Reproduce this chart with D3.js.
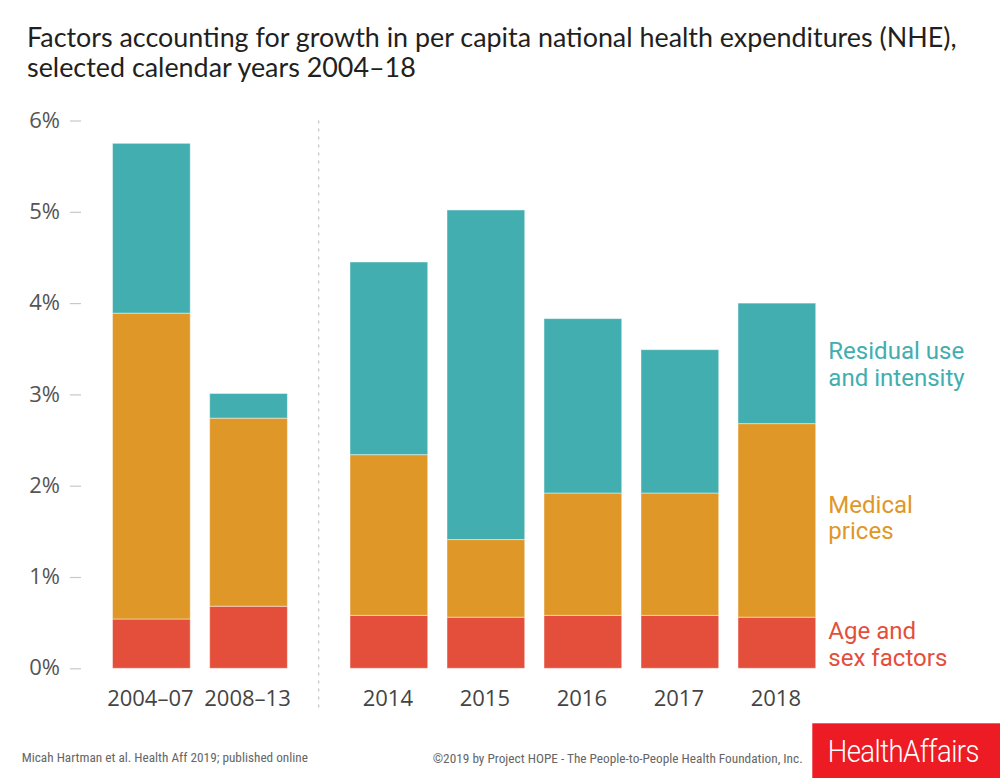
<!DOCTYPE html>
<html>
<head>
<meta charset="utf-8">
<script src="https://cdn.jsdelivr.net/npm/d3@7"></script>
<style>
  html, body { margin: 0; padding: 0; background: #fff; }
  svg { display: block; }
</style>
</head>
<body>
<svg id="chart" width="1000" height="778"></svg>
<script>
// ---- data ----
const leftCategories = ["2004–07", "2008–13"];
const rightCategories = ["2014", "2015", "2016", "2017", "2018"];
const categories = leftCategories.concat(rightCategories);
const ageSex   = [0.54, 0.68, 0.58, 0.56, 0.58, 0.58, 0.56];
const prices   = [3.35, 2.06, 1.76, 0.85, 1.34, 1.34, 2.12];
const residual = [1.86, 0.27, 2.11, 3.61, 1.91, 1.57, 1.32];
const seriesKeys = ["age", "prices", "residual"];
const seriesLabels = [["Age and", "sex factors"], ["Medical", "prices"], ["Residual use", "and intensity"]];
const yTicks = [0, 1, 2, 3, 4, 5, 6];
const titleLines = ["Factors accounting for growth in per capita national health expenditures (NHE),",
                    "selected calendar years 2004–18"];
const sourceText = "Micah Hartman et al. Health Aff 2019; published online";
const copyrightText = "©2019 by Project HOPE - The People-to-People Health Foundation, Inc.";
const brandText = "HealthAffairs";

// ---- styles ----
const colors = { age: "#E34F3A", prices: "#DF9728", residual: "#42AEAF" };

const svg = d3.select("#chart");

const rows = categories.map((c, i) => ({ cat: c, age: ageSex[i], prices: prices[i], residual: residual[i] }));
const stacked = d3.stack().keys(seriesKeys)(rows);

const y = d3.scaleLinear().domain([0, 6]).range([668.3, 120.5]);
const xLeft = d3.scaleBand().domain(leftCategories).range([102.8, 297.1]).paddingInner(0.2).paddingOuter(0.1);
const xRight = d3.scaleBand().domain(rightCategories).range([340.3, 825.3]).paddingInner(0.2).paddingOuter(0.1);
const x = c => leftCategories.includes(c) ? xLeft(c) : xRight(c);
const bw = xLeft.bandwidth();

// title
const title = svg.append("g");
titleLines.forEach((t, i) => {
  title.append("text")
    .attr("x", 27).attr("y", 46.7 + i * 30.6)
    .attr("font-family", "Lato, 'Open Sans', sans-serif")
    .attr("font-size", 24)
    .attr("fill", "#231f20")
    .text(t);
});
// fit title width to ~930px
(function () {
  const t0 = title.select("text").node();
  const w = t0.getComputedTextLength();
  const fs = 24 * 930 / w;
  title.selectAll("text").attr("font-size", fs);
})();

// y axis
const yAxis = d3.axisLeft(y).tickValues(yTicks).tickFormat(d => d + "%").tickSize(11).tickPadding(10);
const yg = svg.append("g").attr("transform", "translate(81,0)").call(yAxis);
yg.select(".domain").remove();
yg.selectAll(".tick line").attr("stroke", "#c8c8c8").attr("stroke-width", 1.2);
yg.selectAll(".tick text")
  .attr("font-family", "'Open Sans', sans-serif")
  .attr("font-size", 22)
  .attr("fill", "#555")
  .attr("dy", "0.3em");

// divider
const divX = (xLeft.range()[1] + xRight.range()[0]) / 2;
svg.append("line")
  .attr("x1", divX).attr("x2", divX)
  .attr("y1", y(6)).attr("y2", 712)
  .attr("stroke", "#c4c4c4").attr("stroke-width", 1.2)
  .attr("stroke-dasharray", "3,5");

// bars
svg.append("g").selectAll("g")
  .data(stacked).join("g")
  .attr("fill", d => colors[d.key])
  .selectAll("rect")
  .data(d => d).join("rect")
  .attr("x", d => x(d.data.cat))
  .attr("y", d => y(d[1]))
  .attr("width", bw)
  .attr("height", d => y(d[0]) - y(d[1]))
  .attr("stroke", "rgba(255,255,255,0.45)")
  .attr("stroke-width", 1);

// x labels
const xl = svg.append("g");
categories.forEach(c => {
  xl.append("text")
    .attr("x", x(c) + bw / 2 - 1)
    .attr("y", 705.7)
    .attr("text-anchor", "middle")
    .attr("font-family", "'Open Sans', sans-serif")
    .attr("font-size", 22)
    .attr("fill", "#444")
    .text(c);
});

// series labels
const labelY = { residual: [359.3, 386], prices: [512.7, 538.5], age: [639.3, 665.5] };
const lg = svg.append("g");
seriesKeys.forEach((k, i) => {
  seriesLabels[i].forEach((line, j) => {
    lg.append("text")
      .attr("class", "lab-" + k + j)
      .attr("x", 828.3)
      .attr("y", labelY[k][j])
      .attr("font-family", "Roboto, sans-serif")
      .attr("font-size", 23)
      .attr("fill", colors[k])
      .text(line);
  });
});
(function () {
  const n = lg.select(".lab-residual0").node();
  const w = n.getComputedTextLength();
  const fs = 23 * 136 / w;
  lg.selectAll("text").attr("font-size", fs);
})();

// footer
svg.append("text")
  .attr("x", 21.7).attr("y", 761.7)
  .attr("font-family", "'Liberation Sans Narrow', 'Roboto Condensed', 'Roboto', sans-serif")
  .attr("font-size", 13)
  .attr("fill", "#666")
  .attr("textLength", 286.3)
  .attr("lengthAdjust", "spacingAndGlyphs")
  .text(sourceText);

svg.append("text")
  .attr("x", 432.7).attr("y", 762.7)
  .attr("font-family", "'Liberation Sans Narrow', 'Roboto Condensed', 'Roboto', sans-serif")
  .attr("font-size", 13)
  .attr("fill", "#666")
  .attr("textLength", 370)
  .attr("lengthAdjust", "spacingAndGlyphs")
  .text(copyrightText);

svg.append("rect")
  .attr("x", 812.3).attr("y", 723.3)
  .attr("width", 1000 - 812.3).attr("height", 778 - 723.3)
  .attr("fill", "#ED1C24");

const brand = svg.append("text")
  .attr("x", 0).attr("y", 0)
  .attr("font-family", "Roboto, sans-serif")
  .attr("font-weight", 300)
  .attr("font-size", 31)
  .attr("letter-spacing", -0.6)
  .attr("fill", "#fff")
  .text(brandText);
(function () {
  const w = brand.node().getComputedTextLength();
  const sx = 151.3 / w;
  brand.attr("transform", `translate(827.7,761.7) scale(${sx},1)`);
})();
</script>
</body>
</html>
